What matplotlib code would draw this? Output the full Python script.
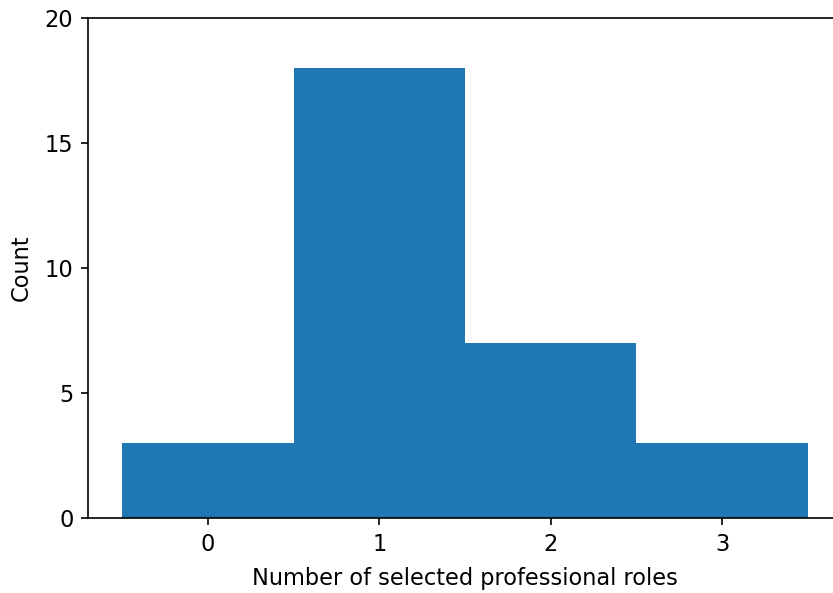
import matplotlib
matplotlib.use("Agg")
import matplotlib.pyplot as plt

# number of selected professional roles -> count of respondents
roles = [0, 1, 2, 3]
counts = [3, 18, 7, 3]

W, H, DPI = 833, 593, 150
plt.rcParams["font.size"] = 10.8

fig = plt.figure(figsize=(W / DPI, H / DPI), dpi=DPI)
# axes run a bit past the right edge (the original was cropped there)
ax = fig.add_axes([88 / W, 75 / H, 754 / W, 500 / H])

ax.bar(roles, counts, width=1.0, color="#1f77b4")
ax.set_xlim(-0.7, 3.7)
ax.set_ylim(0, 20)
ax.set_xticks(roles)
ax.set_yticks([0, 5, 10, 15, 20])
ax.set_xlabel("Number of selected professional roles", labelpad=5.5)
ax.set_ylabel("Count", labelpad=5.5)

fig.savefig("out.png", dpi=DPI)
